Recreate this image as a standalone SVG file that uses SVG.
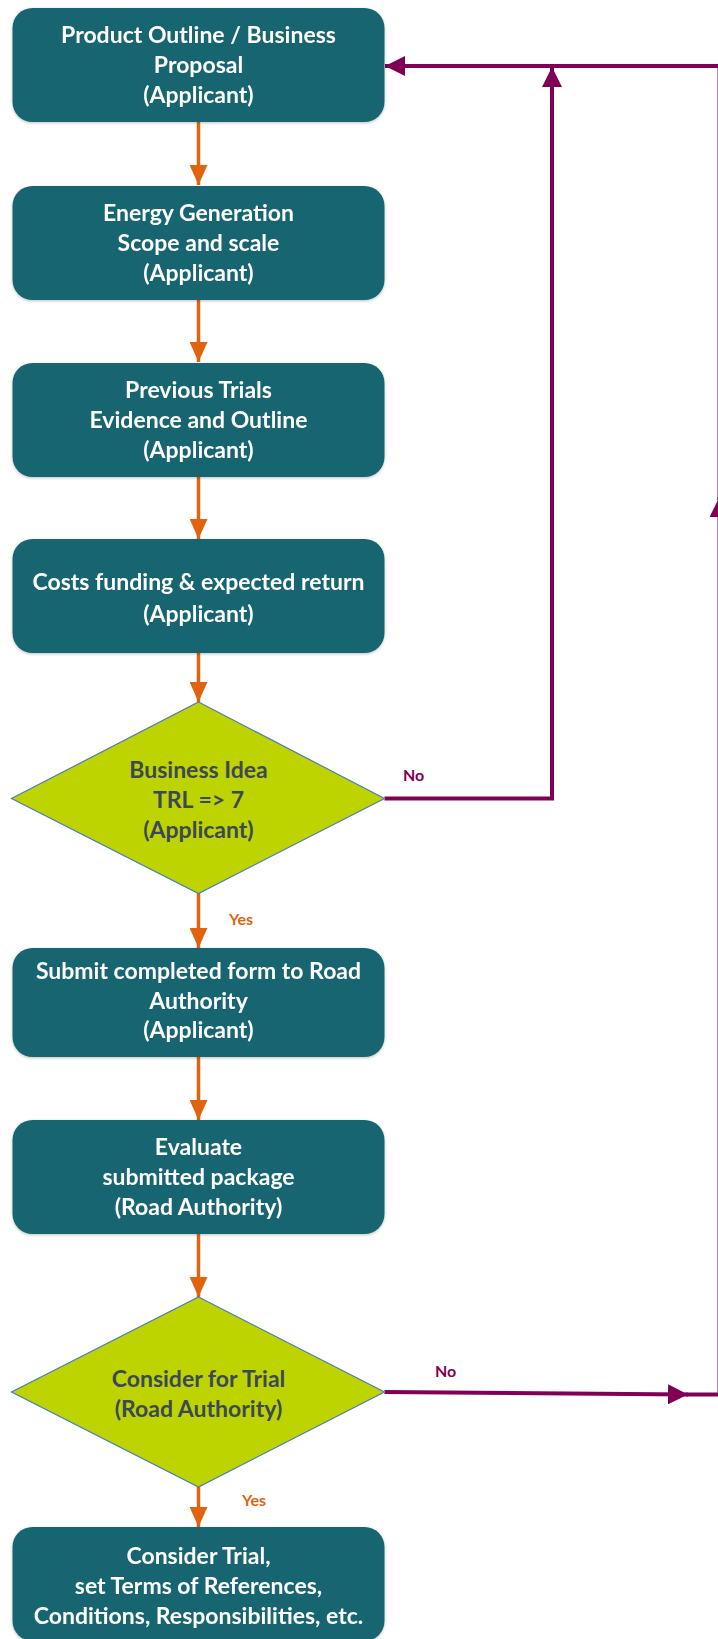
<svg xmlns="http://www.w3.org/2000/svg" width="718" height="1639" viewBox="0 0 718 1639">
<style>
.box{fill:#186570;}
.dia{fill:#bdd400;stroke:#4a7ebb;stroke-width:1.2;}
.bt{font-family:Lato,"Liberation Sans",sans-serif;font-weight:bold;font-size:23px;fill:#ffffff;text-anchor:middle;}
.dt{font-family:Lato,"Liberation Sans",sans-serif;font-weight:bold;font-size:23px;fill:#3c4858;text-anchor:middle;}
.or{stroke:#e06410;stroke-width:3.5;fill:none;}
.pu{stroke:#800055;stroke-width:4;fill:none;}
.lp{font-family:Lato,"Liberation Sans",sans-serif;font-weight:bold;font-size:16px;fill:#800055;}
.lo{font-family:Lato,"Liberation Sans",sans-serif;font-weight:bold;font-size:16px;fill:#e06410;}
</style>
<defs>
<marker id="ao" viewBox="0 0 20 18" refX="20" refY="9" markerWidth="20" markerHeight="18" markerUnits="userSpaceOnUse" orient="auto"><path d="M0,0 L20,9 L0,18 z" fill="#e06410"/></marker>
<marker id="ap" viewBox="0 0 20 20" refX="20" refY="10" markerWidth="20" markerHeight="20" markerUnits="userSpaceOnUse" orient="auto"><path d="M0,0 L20,10 L0,20 z" fill="#800055"/></marker>
<filter id="sh" x="-5%" y="-5%" width="110%" height="115%"><feDropShadow dx="0" dy="1" stdDeviation="1.5" flood-color="#000" flood-opacity="0.25"/></filter>
</defs>

<g id="connectors">
<line class="or" x1="198.5" y1="122" x2="198.5" y2="185" marker-end="url(#ao)"/>
<line class="or" x1="198.5" y1="300" x2="198.5" y2="362" marker-end="url(#ao)"/>
<line class="or" x1="198.5" y1="477" x2="198.5" y2="539" marker-end="url(#ao)"/>
<line class="or" x1="198.5" y1="653" x2="198.5" y2="702" marker-end="url(#ao)"/>
<line class="or" x1="198.5" y1="893" x2="198.5" y2="948" marker-end="url(#ao)"/>
<line class="or" x1="198.5" y1="1057" x2="198.5" y2="1120" marker-end="url(#ao)"/>
<line class="or" x1="198.5" y1="1234" x2="198.5" y2="1297" marker-end="url(#ao)"/>
<line class="or" x1="198.5" y1="1487" x2="198.5" y2="1527" marker-end="url(#ao)"/>
<polyline class="pu" points="384.5,798.5 552,798.5 552,67" marker-end="url(#ap)"/>
<line class="pu" x1="720" y1="66" x2="385" y2="66" marker-end="url(#ap)"/>
<line class="pu" x1="384.5" y1="1392" x2="688" y2="1394.5" marker-end="url(#ap)"/>
<line class="pu" x1="686" y1="1394.5" x2="720" y2="1394.5"/>
<line class="pu" x1="719.5" y1="1394.5" x2="719.5" y2="497" marker-end="url(#ap)"/>
<line class="pu" x1="719.5" y1="500" x2="719.5" y2="66"/>
<text class="lp" x="403" y="781">No</text>
<text class="lo" x="229" y="925">Yes</text>
<text class="lp" x="435" y="1377">No</text>
<text class="lo" x="242" y="1506">Yes</text>
</g>

<g id="n1" filter="url(#sh)"><rect class="box" x="12.5" y="8" width="372" height="114" rx="20"/>
<text class="bt" x="198.5" y="43">Product Outline / Business</text>
<text class="bt" x="198.5" y="73">Proposal</text>
<text class="bt" x="198.5" y="103">(Applicant)</text></g>

<g id="n2" filter="url(#sh)"><rect class="box" x="12.5" y="186" width="372" height="114" rx="20"/>
<text class="bt" x="198.5" y="221">Energy Generation</text>
<text class="bt" x="198.5" y="251">Scope and scale</text>
<text class="bt" x="198.5" y="281">(Applicant)</text></g>

<g id="n3" filter="url(#sh)"><rect class="box" x="12.5" y="363" width="372" height="114" rx="20"/>
<text class="bt" x="198.5" y="398">Previous Trials</text>
<text class="bt" x="198.5" y="428">Evidence and Outline</text>
<text class="bt" x="198.5" y="458">(Applicant)</text></g>

<g id="n4" filter="url(#sh)"><rect class="box" x="12.5" y="539" width="372" height="114" rx="20"/>
<text class="bt" x="198.5" y="590">Costs funding &amp; expected return</text>
<text class="bt" x="198.5" y="622">(Applicant)</text></g>

<g id="d1"><polygon class="dia" points="198.5,702 384.5,798.5 198.5,893.5 11.5,798.5"/>
<text class="dt" x="198.5" y="778">Business Idea</text>
<text class="dt" x="198.5" y="808">TRL =&gt; 7</text>
<text class="dt" x="198.5" y="838">(Applicant)</text></g>

<g id="n5" filter="url(#sh)"><rect class="box" x="12.5" y="948" width="372" height="109" rx="20"/>
<text class="bt" x="198.5" y="979">Submit completed form to Road</text>
<text class="bt" x="198.5" y="1009">Authority</text>
<text class="bt" x="198.5" y="1038">(Applicant)</text></g>

<g id="n6" filter="url(#sh)"><rect class="box" x="12.5" y="1120" width="372" height="114" rx="20"/>
<text class="bt" x="198.5" y="1155">Evaluate</text>
<text class="bt" x="198.5" y="1185">submitted package</text>
<text class="bt" x="198.5" y="1215">(Road Authority)</text></g>

<g id="d2"><polygon class="dia" points="198.5,1297 384.5,1392 198.5,1487 11.5,1392"/>
<text class="dt" x="198.5" y="1387">Consider for Trial</text>
<text class="dt" x="198.5" y="1417">(Road Authority)</text></g>

<g id="n7" filter="url(#sh)"><rect class="box" x="12.5" y="1527" width="372" height="114" rx="20"/>
<text class="bt" x="198.5" y="1564">Consider Trial,</text>
<text class="bt" x="198.5" y="1594">set Terms of References,</text>
<text class="bt" x="198.5" y="1624">Conditions, Responsibilities, etc.</text></g>
</svg>
